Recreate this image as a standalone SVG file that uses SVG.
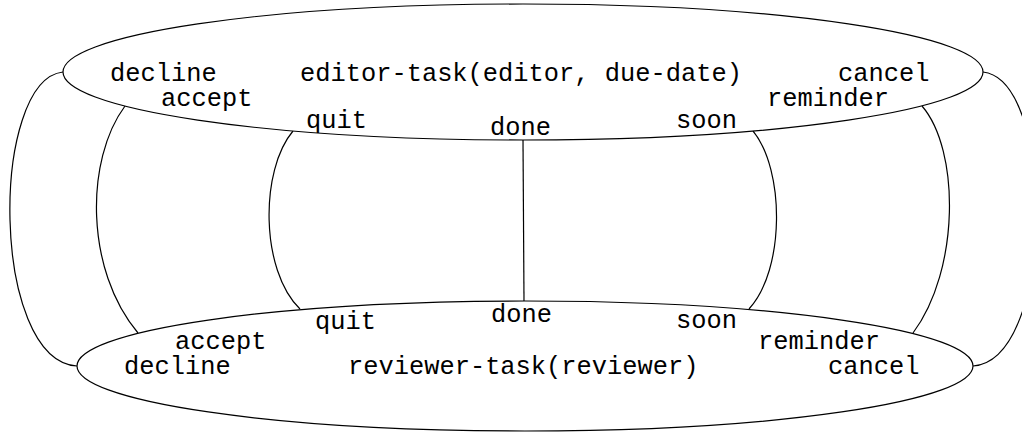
<svg xmlns="http://www.w3.org/2000/svg" width="1022" height="432" viewBox="0 0 1022 432">
<style>
.n{fill:#fff;stroke:#000;stroke-width:1.2}
.c{fill:none;stroke:#000;stroke-width:1.2}
text{font-family:"Liberation Mono","Courier New",monospace;font-size:25.4px;fill:#000}
</style>
<rect width="1022" height="432" fill="#fff"/>
<g id="connectors">
<path class="c" d="M63,72 C-10,80 -10,360 77,366"/>
<path class="c" d="M983,72 C1056,80 1056,360 973,366"/>
<path class="c" d="M125,106 C85,160 85,270 138,333"/>
<path class="c" d="M293,131 C260,170 260,270 300,309"/>
<path class="c" d="M523,140 L524,301"/>
<path class="c" d="M753,131 C785,170 785,270 749,309"/>
<path class="c" d="M922,106 C960,150 960,270 913,333"/>
</g>
<g id="editor-task">
<ellipse class="n" cx="523" cy="72" rx="460" ry="68"/>
<text x="110" y="81">decline</text>
<text x="161" y="106">accept</text>
<text x="300" y="81">editor-task(editor, due-date)</text>
<text x="306" y="128">quit</text>
<text x="490" y="135">done</text>
<text x="676" y="128">soon</text>
<text x="767" y="106">reminder</text>
<text x="838" y="81">cancel</text>
</g>
<g id="reviewer-task">
<ellipse class="n" cx="525" cy="366" rx="448" ry="65"/>
<text x="175" y="349">accept</text>
<text x="124" y="374">decline</text>
<text x="315" y="329">quit</text>
<text x="491" y="322">done</text>
<text x="348" y="374">reviewer-task(reviewer)</text>
<text x="676" y="328">soon</text>
<text x="758" y="349">reminder</text>
<text x="828" y="374">cancel</text>
</g>
</svg>
